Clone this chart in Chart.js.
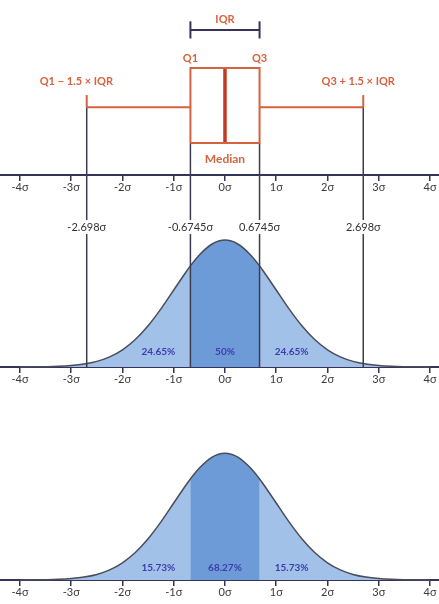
<!DOCTYPE html>
<html>
<head>
<meta charset="utf-8">
<title>Boxplot vs normal distribution</title>
<script src="https://cdn.jsdelivr.net/npm/chart.js@4.4.1/dist/chart.umd.min.js"></script>
<style>
  html, body { margin: 0; padding: 0; background: #fff; }
  #wrap { width: 439px; height: 604px; position: relative; }
</style>
</head>
<body>
<div id="wrap"><canvas id="chart"></canvas></div>
<script>
// data
const sigmaX = [-4, -3.75, -3.5, -3.25, -3, -2.75, -2.5, -2.25, -2, -1.75, -1.5, -1.25, -1, -0.75, -0.6745, -0.5, -0.25,
  0, 0.25, 0.5, 0.6745, 0.75, 1, 1.25, 1.5, 1.75, 2, 2.25, 2.5, 2.75, 3, 3.25, 3.5, 3.75, 4]
const density = [0.0001, 0.0004, 0.0009, 0.002, 0.0044, 0.0091, 0.0175, 0.0317, 0.054, 0.0863, 0.1295, 0.1826, 0.242, 0.3011, 0.3178, 0.3521, 0.3867,
  0.3989, 0.3867, 0.3521, 0.3178, 0.3011, 0.242, 0.1826, 0.1295, 0.0863, 0.054, 0.0317, 0.0175, 0.0091, 0.0044, 0.002, 0.0009, 0.0004, 0.0001]
const tickValues = [-4, -3, -2, -1, 0, 1, 2, 3, 4]
const quartiles = [-0.6745, 0.6745]
const median = 0
const whiskers = [-2.698, 2.698]
const markerValues = [-2.698, -0.6745, 0.6745, 2.698]
const markerLabels = ['-2.698σ', '-0.6745σ', '0.6745σ', '2.698σ']
const shareX = [-1.3, 0, 1.3]
const iqrShares = ['24.65%', '50%', '24.65%']
const sigmaShares = ['15.73%', '68.27%', '15.73%']
const whiskerLabels = ['Q1 − 1.5 × IQR', 'Q3 + 1.5 × IQR']
const whiskerLabelX = [-2.9, 2.6]

// layout (y levels in chart units)
const level = {
  axisBottom: 0,
  axisMid: 0.67,
  axisTop: 1.274,
  boxBottom: 1.374,
  whisker: 1.487,
  capTop: 1.525,
  boxTop: 1.61,
  iqr: 1.73,
  iqrCap: 0.027,
  iqrText: 1.764,
  qText: 1.641,
  whiskerText: 1.569,
  medianText: 1.324,
  markerText: 1.11,
  shareMid: 0.717,
  shareBottom: 0.038,
}
const X_MIN = -4.39
const X_MAX = 4.176
const Y_MIN = -0.0755
const Y_MAX = 1.824

const ORANGE = '#d6623f'
const NAVY = '#34345a'
const DARK = '#3c3c4e'
const LIGHT_BLUE = '#a2c1e8'
const MID_BLUE = '#6d9bd7'

Chart.defaults.font.family = 'Lato, "Open Sans", sans-serif'

function pts(filter, offset) {
  const out = []
  sigmaX.forEach((x, i) => {
    if (filter(x)) out.push({ x: x, y: density[i] + offset })
  })
  return out
}

function seg(points, color, width) {
  return {
    data: points,
    borderColor: color,
    borderWidth: width,
    pointRadius: 0,
    fill: false,
    tension: 0,
  }
}

function area(points, base, color) {
  return {
    data: points,
    borderWidth: 0,
    borderColor: color,
    backgroundColor: color,
    pointRadius: 0,
    fill: { value: base },
    cubicInterpolationMode: 'monotone',
  }
}

function outline(points) {
  return {
    data: points,
    borderColor: '#4a4c5a',
    borderWidth: 1.5,
    pointRadius: 0,
    fill: false,
    cubicInterpolationMode: 'monotone',
  }
}

const q1 = quartiles[0], q3 = quartiles[1]
// first dataset is drawn on top, so lines go first and the shaded areas last
const lines = []
const outlines = []
const areas = []

;[level.axisMid, level.axisBottom].forEach((base) => {
  // middle band sits on top of the full light area (no seams)
  areas.push(area(pts((x) => x >= q1 && x <= q3, base), base, MID_BLUE))
  areas.push(area(pts(() => true, base), base, LIGHT_BLUE))
  outlines.push(outline(pts(() => true, base)))
})

// box plot
lines.push(seg([
  { x: q1, y: level.boxBottom }, { x: q1, y: level.boxTop }, { x: q3, y: level.boxTop },
  { x: q3, y: level.boxBottom }, { x: q1, y: level.boxBottom },
], ORANGE, 2))
lines.push(seg([{ x: median, y: level.boxBottom }, { x: median, y: level.boxTop }], '#c23a22', 3.5))
lines.push(seg([{ x: whiskers[0], y: level.whisker }, { x: q1, y: level.whisker }], ORANGE, 2))
lines.push(seg([{ x: q3, y: level.whisker }, { x: whiskers[1], y: level.whisker }], ORANGE, 2))
whiskers.forEach((w) => {
  lines.push(seg([{ x: w, y: level.whisker }, { x: w, y: level.capTop }], ORANGE, 2))
})

// IQR bracket
lines.push(seg([{ x: q1, y: level.iqr }, { x: q3, y: level.iqr }], NAVY, 2))
quartiles.forEach((q) => {
  lines.push(seg([{ x: q, y: level.iqr - level.iqrCap }, { x: q, y: level.iqr + level.iqrCap }], NAVY, 2))
})

// dark guide lines down to the middle axis
whiskers.forEach((w) => {
  lines.push(seg([{ x: w, y: level.whisker }, { x: w, y: level.axisMid }], DARK, 1.5))
})
quartiles.forEach((q) => {
  lines.push(seg([{ x: q, y: level.boxBottom }, { x: q, y: level.axisMid }], DARK, 1.5))
})

const datasets = lines.concat(outlines, areas)

function sigmaAxis(yLevel) {
  return {
    type: 'linear',
    min: X_MIN,
    max: X_MAX,
    position: { y: yLevel },
    z: 1,
    afterBuildTicks: (axis) => {
      axis.ticks = tickValues.map((v) => ({ value: v }))
    },
    ticks: {
      callback: (v) => v + 'σ',
      color: '#3a3a3a',
      font: { size: 11 },
      padding: 1,
      autoSkip: false,
      maxRotation: 0,
    },
    grid: { drawOnChartArea: false, tickLength: 5, color: NAVY, lineWidth: 1.5 },
    border: { color: NAVY, width: 2 },
  }
}

const labelPlugin = {
  id: 'labels',
  afterDraw(chart) {
    const { ctx } = chart
    const xs = chart.scales.x
    const ys = chart.scales.y
    const put = (text, xv, yv, color, font, bg) => {
      const px = xs.getPixelForValue(xv)
      const py = ys.getPixelForValue(yv)
      ctx.save()
      ctx.font = font
      ctx.textAlign = 'center'
      ctx.textBaseline = 'middle'
      if (bg) {
        const w = ctx.measureText(text).width
        ctx.fillStyle = '#fff'
        ctx.fillRect(px - w / 2 - 1, py - 7, w + 2, 14)
      }
      ctx.fillStyle = color
      ctx.fillText(text, px, py)
      ctx.restore()
    }
    put('IQR', median, level.iqrText, ORANGE, 'bold 11px Lato')
    put('Q1', q1, level.qText, ORANGE, 'bold 11px Lato')
    put('Q3', q3, level.qText, ORANGE, 'bold 11px Lato')
    whiskerLabels.forEach((t, i) => put(t, whiskerLabelX[i], level.whiskerText, ORANGE, 'bold 11px Lato'))
    put('Median', median, level.medianText, ORANGE, 'bold 12px Lato')
    markerLabels.forEach((t, i) => put(t, markerValues[i], level.markerText, '#333', '11px Lato', true))
    iqrShares.forEach((t, i) => put(t, shareX[i], level.shareMid, '#3d3dac', 'bold 10px Lato'))
    sigmaShares.forEach((t, i) => put(t, shareX[i], level.shareBottom, '#3d3dac', 'bold 10px Lato'))
  },
}

const ctx = document.getElementById('chart').getContext('2d')
const chart = new Chart(ctx, {
  type: 'line',
  data: { datasets: datasets },
  options: {
    responsive: true,
    maintainAspectRatio: false,
    animation: false,
    layout: { padding: 0 },
    plugins: { legend: { display: false }, tooltip: { enabled: false } },
    scales: {
      x: sigmaAxis(level.axisBottom),
      xMid: sigmaAxis(level.axisMid),
      xTop: sigmaAxis(level.axisTop),
      y: { type: 'linear', display: false, min: Y_MIN, max: Y_MAX },
    },
  },
  plugins: [labelPlugin],
})
</script>
</body>
</html>
